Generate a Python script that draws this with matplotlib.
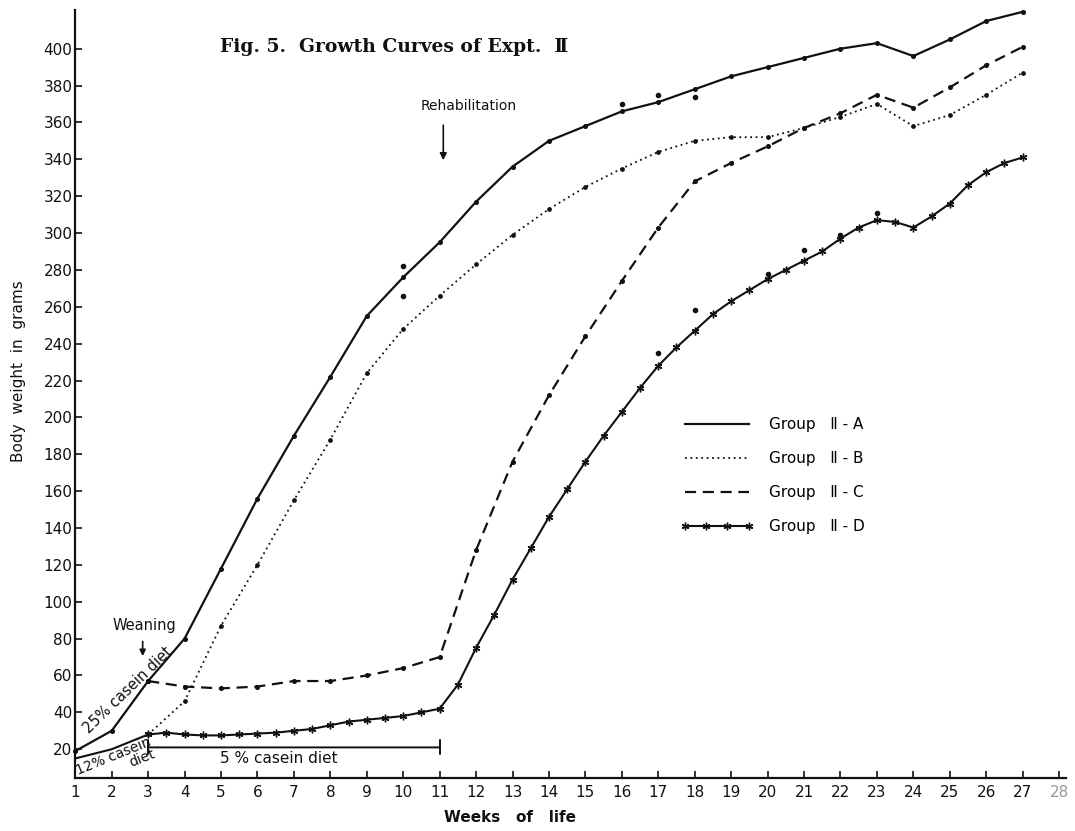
"""
plot.py
Growth curves of Expt. II (Fig. 5) redrawn with matplotlib.
"""

import matplotlib
matplotlib.use("Agg")
import matplotlib.pyplot as plt
from matplotlib.lines import Line2D

# body weight (g), by week of life
weeks = [1, 2, 3, 4, 5, 6, 7, 8, 9, 10, 11, 12, 13, 14, 15, 16, 17, 18, 19,
         20, 21, 22, 23, 24, 25, 26, 27]
group_a = [19, 30, 57, 80, 118, 156, 190, 222, 255, 276, 295, 317, 336, 350,
           358, 366, 371, 378, 385, 390, 395, 400, 403, 396, 405, 415, 420]

b_weeks = [3, 4, 5, 6, 7, 8, 9, 10, 11, 12, 13, 14, 15, 16, 17, 18, 19, 20,
           21, 22, 23, 24, 25, 26, 27]
group_b = [28, 46, 87, 120, 155, 188, 224, 248, 266, 283, 299, 313, 325, 335,
           344, 350, 352, 352, 357, 363, 370, 358, 364, 375, 387]

c_weeks = [3, 4, 5, 6, 7, 8, 9, 10, 11, 12, 13, 14, 15, 16, 17, 18, 19, 20,
           21, 22, 23, 24, 25, 26, 27]
group_c = [57, 54, 53, 54, 57, 57, 60, 64, 70, 128, 176, 212, 244, 274, 303,
           328, 338, 347, 357, 365, 375, 368, 379, 391, 401]

# group D was weighed about twice a week
d_weeks = [1, 2, 3, 3.5, 4, 4.5, 5, 5.5, 6, 6.5, 7, 7.5, 8, 8.5, 9, 9.5, 10,
           10.5, 11, 11.5, 12, 12.5, 13, 13.5, 14, 14.5, 15, 15.5, 16, 16.5,
           17, 17.5, 18, 18.5, 19, 19.5, 20, 20.5, 21, 21.5, 22, 22.5, 23,
           23.5, 24, 24.5, 25, 25.5, 26, 26.5, 27]
group_d = [15, 20, 28, 29, 28, 27.5, 27.5, 28, 28.5, 29, 30, 31, 33, 35, 36,
           37, 38, 40, 42, 55, 75, 93, 112, 129, 146, 161, 176, 190, 203, 216,
           228, 238, 247, 256, 263, 269, 275, 280, 285, 290, 297, 303, 307,
           306, 303, 309, 316, 326, 333, 338, 341]

# stray measurement dots that sit off the drawn curves
a_extra_weeks = [10, 16, 17, 18]
a_extra = [282, 370, 375, 374]
b_extra_weeks = [10]
b_extra = [266]
d_extra_weeks = [17, 18, 20, 21, 22, 23]
d_extra = [235, 258, 278, 291, 299, 311]

x_ticks = list(range(1, 29))
y_ticks = list(range(20, 401, 20))
labels = ["Group   \u2161 - A", "Group   \u2161 - B",
          "Group   \u2161 - C", "Group   \u2161 - D"]

ink = "#111111"
star = (6, 2, 0)

fig = plt.figure(figsize=(10.75, 8.31), dpi=100)
ax = fig.add_axes([0.07, 0.064, 0.922, 0.924])

ax.plot(weeks, group_a, "-", color=ink, lw=1.6, marker="o", ms=2.6, clip_on=False)
ax.plot(b_weeks, group_b, color=ink, lw=1.3, ls=(0, (1, 2)), marker="o", ms=2.4)
ax.plot(c_weeks, group_c, color=ink, lw=1.6, ls=(0, (5, 3)), marker="o", ms=2.6)
ax.plot(d_weeks, group_d, "-", color=ink, lw=1.5, marker=star, ms=5.5, mew=1.0,
        markevery=list(range(2, len(d_weeks))))

ax.plot(a_extra_weeks, a_extra, "o", color=ink, ms=3)
ax.plot(b_extra_weeks, b_extra, "o", color=ink, ms=3)
ax.plot(d_extra_weeks, d_extra, "o", color=ink, ms=3)

# axes
ax.set_xlim(1, 28.2)
ax.set_ylim(4.5, 421)
ax.set_xticks(x_ticks)
ax.set_yticks(y_ticks)
for side in ["top", "right"]:
    ax.spines[side].set_visible(False)
for side in ["left", "bottom"]:
    ax.spines[side].set_linewidth(1.6)
    ax.spines[side].set_color(ink)
ax.tick_params(direction="in", length=5, width=1.2, colors=ink, labelsize=11)
ax.tick_params(axis="y", pad=2)
ax.tick_params(axis="x", pad=5)
ax.get_xticklabels()[-1].set_color("#999999")

ax.set_ylabel("Body  weight  in  grams", fontsize=11, color=ink)
ax.yaxis.set_label_coords(-0.05, 0.53)
ax.set_xlabel("Weeks   of   life", fontsize=11, weight="bold", color=ink)
ax.xaxis.set_label_coords(0.439, -0.042)

# title and notes
ax.text(9.75, 401, "Fig. 5.  Growth Curves of Expt.  \u2161",
        family="DejaVu Serif", weight="bold",
        fontsize=13.5, ha="center", va="center", color=ink)

ax.annotate("", xy=(11.1, 338), xytext=(11.1, 360),
            arrowprops=dict(arrowstyle="-|>", color=ink, lw=1.2, mutation_scale=10))
ax.text(11.8, 369, "Rehabilitation", fontsize=10, ha="center", va="center", color=ink)

ax.annotate("", xy=(2.85, 69), xytext=(2.85, 80),
            arrowprops=dict(arrowstyle="-|>", color=ink, lw=1.2, mutation_scale=9))
ax.text(2.9, 87, "Weaning", fontsize=10.5, ha="center", va="center", color=ink)

ax.text(2.45, 52, "25% casein diet", fontsize=10.5, rotation=44,
        ha="center", va="center", color=ink)
ax.text(2.1, 13, "12% casein\ndiet", fontsize=10, rotation=22,
        ha="center", va="center", multialignment="right", color=ink,
        linespacing=0.9)

ax.annotate("", xy=(3, 21), xytext=(11, 21),
            arrowprops=dict(arrowstyle="|-|", color=ink, lw=1.4,
                            mutation_scale=5, shrinkA=0, shrinkB=0))
ax.text(6.6, 15, "5 % casein diet", fontsize=11, ha="center", va="center", color=ink)

# legend
handles = [
    Line2D([], [], color=ink, lw=1.6),
    Line2D([], [], color=ink, lw=1.3, ls=(0, (1, 2))),
    Line2D([], [], color=ink, lw=1.6, ls=(0, (5, 3))),
    Line2D([], [], color=ink, lw=1.5, marker=star, ms=5.5, mew=1.0),
]
ax.legend(handles, labels, loc="upper left",
          bbox_to_anchor=(680 / 1075, 1 - 417 / 831), bbox_transform=fig.transFigure,
          frameon=False, handlelength=4.8, handletextpad=1.0, labelspacing=1.25,
          fontsize=11, numpoints=4, borderpad=0, borderaxespad=0)

fig.savefig("out.png", dpi=100)
